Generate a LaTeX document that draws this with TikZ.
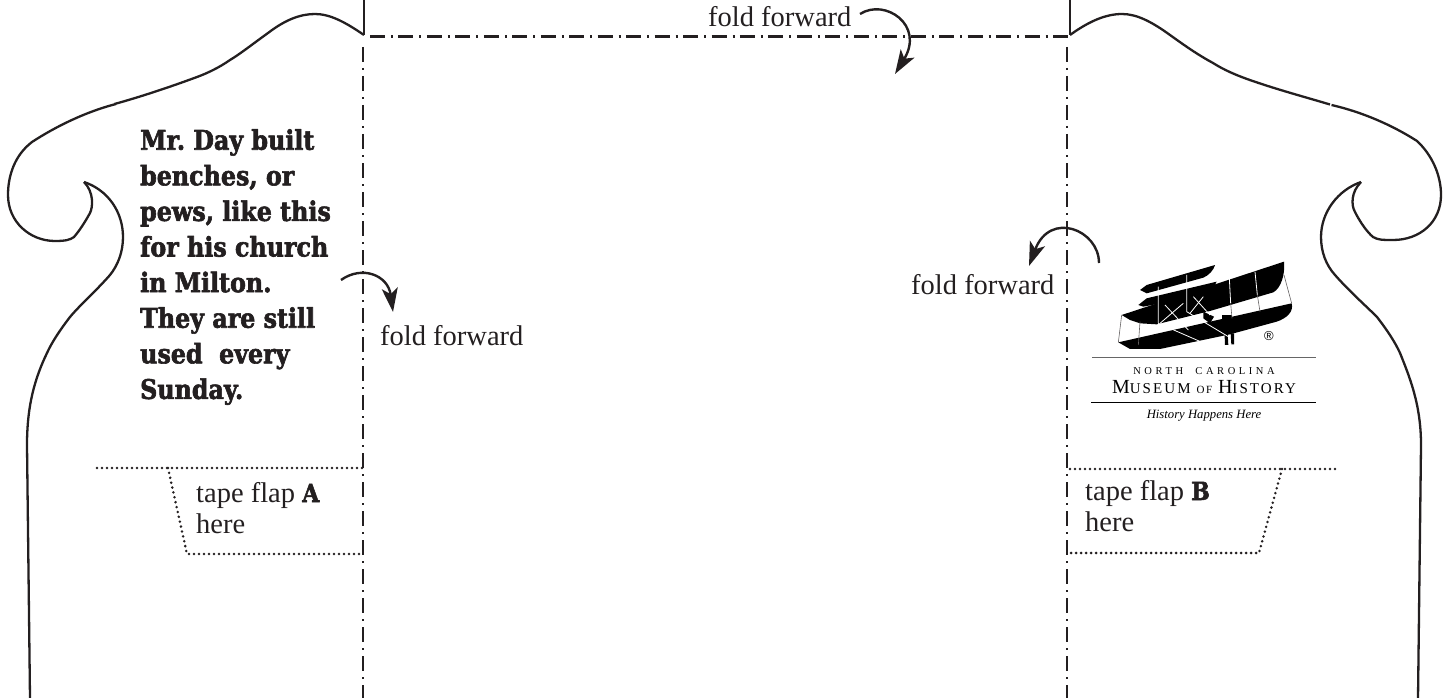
\documentclass[tikz,border=0pt]{standalone}
\usepackage{fontspec}
\setmainfont{Liberation Serif}
\newfontfamily\heavyfont[FakeBold=2.2,FakeStretch=.88]{DejaVu Serif Bold}
\newfontfamily\logofont[LetterSpace=14]{Liberation Serif}
\newfontfamily\logowidefont[LetterSpace=34]{Liberation Serif}
\newfontfamily\markfont{Liberation Sans}
\usetikzlibrary{arrows.meta}
\definecolor{ink}{HTML}{231F20}
\begin{document}
\begin{tikzpicture}[x=1pt,y=-1pt,line join=round]

	\def \foldtop{36.5}
	\def \foldL{363}
	\def \foldR{1067}
	\tikzstyle{cut}=[draw=ink,line width=2.3pt]
	\tikzstyle{fold}=[draw=ink,line width=2.4pt,dash pattern=on 15pt off 6pt on 2pt off 6pt]
	\tikzstyle{foldh}=[draw=ink,line width=2.4pt,dash pattern=on 15pt off 6pt on 2pt off 5.46pt]
	\tikzstyle{tape}=[draw=ink,line width=2.8pt,line cap=round,dash pattern=on 0pt off 5pt]
	\tikzstyle{turn}=[draw=ink,line width=2.4pt,-{Stealth[length=24pt,width=16pt,inset=6pt]}]
	\tikzstyle{f-label}=[anchor=base west,inner sep=0pt,text=ink,font=\fontsize{28.5}{31}\selectfont]
	\tikzstyle{strut}=[draw=white,line width=.8pt]
	\tikzstyle{wire}=[draw=ink!70,line width=.6pt]
	\useasboundingbox (0,0) rectangle (1450,698);

	% corners of the folds
	\coordinate (topL) at (364,0);
	\coordinate (topR) at (1070,0);
	\coordinate (cornerL) at (364,35);
	\coordinate (cornerR) at (1070,35);
	\coordinate (foldA0) at (370,\foldtop);
	\coordinate (foldA1) at (1068,\foldtop);
	\coordinate (foldB0) at (\foldL,47);
	\coordinate (foldB1) at (\foldL,698);
	\coordinate (foldC0) at (\foldR,47);
	\coordinate (foldC1) at (\foldR,698);

	% fold lines
	\draw[cut] (topL) -- (cornerL);
	\draw[cut] (topR) -- (cornerR);
	\draw[foldh] (foldA0) -- (foldA1);
	\draw[fold] (foldB0) -- (foldB1);
	\draw[fold] (foldC0) -- (foldC1);

	% left outline
	\draw[cut] (cornerL) .. controls (345,22) and (330,14) .. (315,14) .. controls (300,14) and (285,20) .. (268,33) .. controls (250,46) and (240,54) .. (230,60) .. controls (220,67) and (208,73) .. (197,77) .. controls (170,87) and (140,97) .. (114.5,104);
	\draw[cut] (116,104) .. controls (85,112) and (55,127) .. (32,142) .. controls (15,155) and (8,175) .. (8,195) .. controls (8,222) and (30,241) .. (55,241) .. controls (65,241) and (70,240) .. (74,237) .. controls (80,230) and (85,222) .. (90,213) .. controls (93,207) and (94,192) .. (84,182);
	\draw[cut] (84,182) .. controls (108,190) and (123,212) .. (123,237) .. controls (123,252) and (118,265) .. (110,275) .. controls (95,292) and (80,305) .. (70,317) .. controls (60,330) and (52,342) .. (47,353) .. controls (35,378) and (27,405) .. (27,445) -- (30,698);

	% right outline
	\draw[cut] (cornerR) .. controls (1088,22) and (1105,14) .. (1122,14) .. controls (1137,14) and (1152,22) .. (1170,35) .. controls (1188,48) and (1200,56) .. (1213,63) .. controls (1224,70) and (1236,75) .. (1247,79) .. controls (1275,89) and (1305,97) .. (1330,104.5);
	\draw[cut] (1331.5,105) .. controls (1362,112) and (1392,125) .. (1417,141) .. controls (1432,155) and (1441,175) .. (1441,195) .. controls (1441,222) and (1420,240) .. (1393,240) .. controls (1383,240) and (1378,240) .. (1373,237) .. controls (1367,232) and (1360,222) .. (1355,212) .. controls (1351,205) and (1351,192) .. (1361,182);
	\draw[cut] (1361,182) .. controls (1338,190) and (1321,212) .. (1321,237) .. controls (1321,252) and (1326,265) .. (1335,275) .. controls (1350,292) and (1365,305) .. (1377,317) .. controls (1387,330) and (1395,342) .. (1400,353) .. controls (1410,378) and (1421,405) .. (1421,445) -- (1418,698);

	% fold arrows
	\coordinate (turnA0) at (860,14);
	\coordinate (turnA1) at (895,74);
	\coordinate (turnB0) at (341,280);
	\coordinate (turnB1) at (393,312);
	\coordinate (turnC0) at (1099,263);
	\coordinate (turnC1) at (1029,266);
	\draw[turn] (turnA0) .. controls (885,-2) and (925,25) .. (turnA1);
	\draw[turn] (turnB0) .. controls (362,265) and (388,275) .. (turnB1);
	\draw[turn] (turnC0) .. controls (1099,230) and (1050,210) .. (turnC1);

	% labels
	\node[f-label] (foldlabelA) at (708,27) {fold forward};
	\node[f-label] (foldlabelB) at (380,345) {fold forward};
	\node[f-label] (foldlabelC) at (911,294) {fold forward};
	\node[anchor=north west,inner sep=0pt,text=ink,align=left,font=\heavyfont\frenchspacing\fontsize{27}{35.6}\selectfont] (story) at (140,129)
		{Mr. Day built\\benches, or\\pews, like this\\for his church\\in Milton.\\They are still\\used~ every\\Sunday.};

	% tape flaps
	\coordinate (tapeA0) at (97,468);
	\coordinate (tapeA1) at (362,468);
	\coordinate (tapeA2) at (168,468);
	\coordinate (tapeA3) at (187,554);
	\coordinate (tapeA4) at (362,554);
	\coordinate (tapeB0) at (1070,469);
	\coordinate (tapeB1) at (1337,469);
	\coordinate (tapeB2) at (1282,469);
	\coordinate (tapeB3) at (1259,553);
	\coordinate (tapeB4) at (1070,553);
	\draw[tape] (tapeA0) -- (tapeA1);
	\draw[tape] (tapeA2) -- (tapeA3) -- (tapeA4);
	\draw[tape] (tapeB0) -- (tapeB1);
	\draw[tape] (tapeB2) -- (tapeB3) -- (tapeB4);
	\node[f-label] (tapelabelA) at (196,502) {tape flap {\heavyfont\fontsize{25}{25}\selectfont A}};
	\node[f-label] (herelabelA) at (196,533) {here};
	\node[f-label] (tapelabelB) at (1085,500) {tape flap {\heavyfont\fontsize{25}{25}\selectfont B}};
	\node[f-label] (herelabelB) at (1085,531) {here};

	% plane of the logo
	\begin{scope}[shift={(1110,255)},x=.3333pt,y=-.3333pt]
		\fill[black] (35,180) -- (522,20) .. controls (526,60) and (512,100) .. (490,112) -- (300,168) -- (140,208) -- (90,205) -- (60,195) -- cycle;
		\fill[black] (25,262) -- (545,145) .. controls (552,170) and (530,190) .. (500,200) -- (360,238) -- (150,282) -- (60,282) -- cycle;
		\fill[black] (90,105) -- (110,90) -- (315,30) .. controls (312,45) and (295,62) .. (280,68) -- (110,115) -- cycle;
		\fill[black] (85,150) -- (110,130) -- (320,80) .. controls (312,100) and (295,115) .. (275,122) -- (100,155) -- cycle;
		\fill[black] (280,170) -- (312,185) -- (300,205) -- (280,190) -- cycle;
		\fill[black] (335,180) -- (365,180) -- (365,200) -- (335,200) -- cycle;
		\fill[black] (343,220) -- (352,220) -- (355,270) -- (345,270) -- cycle;
		\fill[black] (362,235) -- (372,235) -- (372,268) -- (364,268) -- cycle;
		\draw[strut] (358,70) -- (362,145);
		\draw[strut] (435,50) -- (442,120);
		\draw[strut] (145,95) -- (145,205) -- (290,268);
		\draw[strut] (230,60) -- (230,170) -- (355,245);
		\draw[strut] (150,205) -- (220,145);
		\draw[strut] (165,150) -- (235,225);
		\draw[strut] (240,175) -- (280,125);
		\draw[strut] (250,125) -- (300,180);
		\draw[wire] (35,180) -- (25,262);
		\draw[wire] (90,200) -- (85,270);
		\draw[wire] (522,60) -- (545,145);
		\draw[wire] (362,145) -- (366,190);
		\draw[wire] (442,120) -- (450,170);
	\end{scope}
	\node[anchor=base,inner sep=0pt,font=\markfont\fontsize{13}{13}\selectfont] (regmark) at (1269,340) {®};

	% logo text
	\coordinate (ruleA0) at (1092,357);
	\coordinate (ruleA1) at (1316,357);
	\coordinate (ruleB0) at (1091,402);
	\coordinate (ruleB1) at (1316,402);
	\draw[draw=black!60,line width=1pt] (ruleA0) -- (ruleA1);
	\draw[draw=black,line width=1pt] (ruleB0) -- (ruleB1);
	\node[anchor=base,inner sep=0pt,font=\logowidefont\fontsize{10.5}{10}\selectfont] (logoA) at (1204,374) {NORTH\ \ CAROLINA};
	\node[anchor=base,inner sep=0pt,font=\logofont\fontsize{15}{15}\selectfont] (logoB) at (1204,393)
		{{\fontsize{20}{20}\selectfont M}USEUM {\fontsize{11}{11}\selectfont OF} {\fontsize{20}{20}\selectfont H}ISTORY};
	\node[anchor=base,inner sep=0pt,font=\itshape\fontsize{12.7}{12}\selectfont] (logoC) at (1204,418) {History Happens Here};

\end{tikzpicture}
\end{document}
